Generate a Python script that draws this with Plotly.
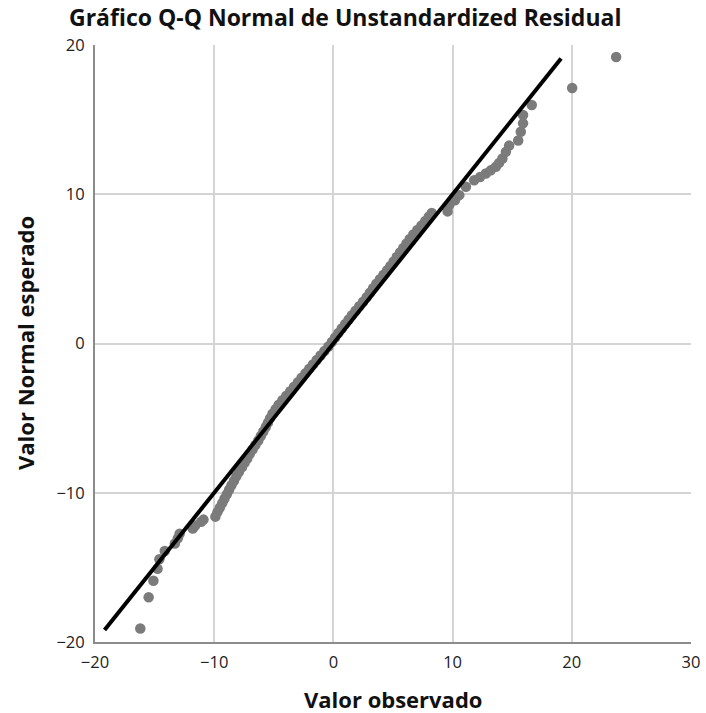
import plotly.graph_objects as go

lower_obs = [-16.2, -15.5, -15.1, -14.75, -14.6, -14.15, -13.3, -13.05, -12.9, -11.8, -11.6, -11.1, -10.9, -9.9]
lower_exp = [-19.1, -17.0, -15.9, -15.1, -14.45, -13.9, -13.4, -13.05, -12.75, -12.4, -12.2, -11.95, -11.8, -11.6]

band_exp = [-11.3, -11.0, -10.7, -10.4, -10.1, -9.8, -9.5, -9.2, -8.9, -8.6, -8.3, -8.0,
            -7.7, -7.4, -7.1, -6.8, -6.5, -6.2, -5.9, -5.6, -5.3, -5.0, -4.7, -4.4,
            -4.1, -3.8, -3.5, -3.2, -2.9, -2.6, -2.3, -2.0, -1.7, -1.4, -1.1, -0.8,
            -0.5, -0.2, 0.1, 0.4, 0.7, 1.0, 1.3, 1.6, 1.9, 2.2, 2.5, 2.8,
            3.1, 3.4, 3.7, 4.0, 4.3, 4.6, 4.9, 5.2, 5.5, 5.8, 6.1, 6.4,
            6.7, 7.0, 7.3, 7.6, 7.9, 8.2, 8.5, 8.75]
band_obs = [-9.73, -9.53, -9.33, -9.14, -8.94, -8.75, -8.55, -8.34, -8.14, -7.92, -7.68, -7.45,
            -7.23, -7.02, -6.78, -6.54, -6.30, -6.09, -5.88, -5.67, -5.49, -5.31, -5.11, -4.85,
            -4.59, -4.28, -3.95, -3.62, -3.30, -2.98, -2.67, -2.35, -2.03, -1.72, -1.40, -1.08,
            -0.75, -0.42, -0.13, 0.14, 0.42, 0.70, 0.98, 1.27, 1.55, 1.86, 2.17, 2.49,
            2.79, 3.06, 3.33, 3.60, 3.90, 4.20, 4.50, 4.78, 5.05, 5.32, 5.59, 5.86,
            6.13, 6.40, 6.70, 7.04, 7.38, 7.70, 8.00, 8.25]

upper_obs = [9.58, 9.72, 10.2, 10.56, 11.12, 11.81, 12.3, 12.79, 13.2, 13.63, 13.9, 14.18,
             14.47, 14.74, 15.5, 15.72, 15.91, 15.91, 16.64, 20.03, 23.72]
upper_exp = [8.85, 9.27, 9.6, 9.94, 10.5, 10.94, 11.15, 11.39, 11.6, 11.84, 12.1, 12.4,
             12.84, 13.26, 13.6, 14.19, 14.75, 15.31, 15.98, 17.12, 19.2]

observed = lower_obs + band_obs + upper_obs
expected = lower_exp + band_exp + upper_exp

ref_line = [-19.2, 19.1]

x_ticks = [-20, -10, 0, 10, 20, 30]
y_ticks = [-20, -10, 0, 10, 20]

FONT = "Open Sans"

fig = go.Figure()
fig.add_trace(go.Scatter(
    x=observed, y=expected, mode="markers",
    marker=dict(color="#7b7b7b", size=10.5, line=dict(width=0)),
    showlegend=False, hoverinfo="x+y"))
fig.add_trace(go.Scatter(
    x=ref_line, y=ref_line, mode="lines",
    line=dict(color="#000000", width=4),
    showlegend=False))

fig.update_layout(
    width=706, height=713,
    paper_bgcolor="white", plot_bgcolor="white",
    margin=dict(l=94.5, r=15, t=45, b=71, autoexpand=False),
    title=dict(text="<b>Gráfico Q-Q Normal de Unstandardized Residual</b>",
               x=0.489, xanchor="center", xref="container",
               y=0.963, yanchor="bottom", yref="container",
               font=dict(family=FONT, size=23, color="#111111")),
    font=dict(family=FONT, color="#222222"),
    annotations=[
        dict(text="<b>Valor observado</b>", xref="paper", yref="paper",
             x=0.5, y=0, yshift=-57, xanchor="center", yanchor="middle",
             showarrow=False, font=dict(family=FONT, size=22, color="#111111")),
        dict(text="<b>Valor Normal esperado</b>", xref="paper", yref="paper",
             x=0, y=0.5, xshift=-70.5, textangle=-90, xanchor="center", yanchor="middle",
             showarrow=False, font=dict(family=FONT, size=22, color="#111111")),
    ],
)
fig.update_xaxes(
    range=[-20, 30], tickvals=x_ticks, ticktext=[str(v).replace("-", "\u2212") for v in x_ticks],
    showgrid=True, gridcolor="#d4d4d4", gridwidth=1.5, zeroline=False,
    showline=True, linecolor="#8c8c8c", linewidth=2, ticks="", ticklen=0,
    ticklabelstandoff=4, ticklabeloverflow="allow", automargin=False,
    tickfont=dict(family=FONT, size=16.5, color="#222222"),
)
fig.update_yaxes(
    range=[-20, 20], tickvals=y_ticks, ticktext=[str(v).replace("-", "\u2212") for v in y_ticks],
    showgrid=True, gridcolor="#d4d4d4", gridwidth=1.5, zeroline=False,
    showline=True, linecolor="#8c8c8c", linewidth=2, ticks="", ticklen=0,
    ticklabelstandoff=5, ticklabeloverflow="allow", automargin=False,
    tickfont=dict(family=FONT, size=16.5, color="#222222"),
)

fig.write_html("out.html",
               config={"displayModeBar": False},
               post_script="document.body.style.margin='0';document.body.style.overflow='hidden';")
